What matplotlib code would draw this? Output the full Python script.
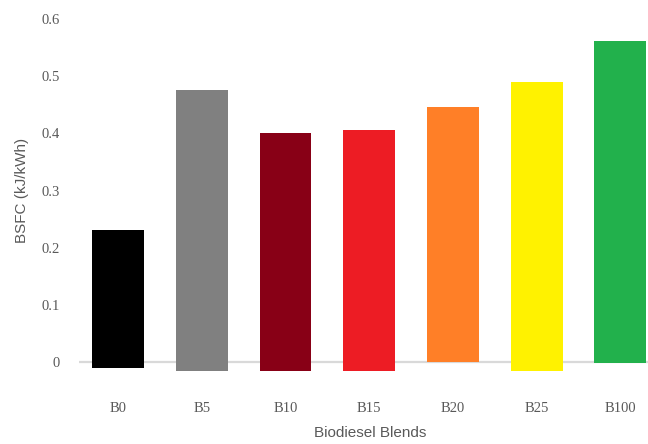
import matplotlib.pyplot as plt

blends = ['B0', 'B5', 'B10', 'B15', 'B20', 'B25', 'B100']
bsfc = [0.231, 0.475, 0.401, 0.406, 0.446, 0.489, 0.562]
bar_bottom = [-0.010, -0.016, -0.016, -0.016, 0.0, -0.016, -0.002]
colors = ['#000000', '#808080', '#880016', '#ED1C24', '#FF7F27', '#FFF200', '#22B14C']

plt.rcParams['font.family'] = ['Liberation Serif', 'DejaVu Serif']
grey = '#595959'
title_font = ['Liberation Sans Narrow', 'Liberation Sans', 'DejaVu Sans']

fig = plt.figure(figsize=(6.48, 4.44), dpi=100)
ax = fig.add_axes([0.122, 0.155, 0.878, 0.8225])

x = list(range(len(blends)))
heights = [v - b for v, b in zip(bsfc, bar_bottom)]
ax.bar(x, heights, bottom=bar_bottom, width=0.62, color=colors, zorder=2)
ax.axhline(0, color='#d9d9d9', lw=1.6, zorder=1)

ax.set_xlim(-0.466, 6.33)
ax.set_ylim(-0.0227, 0.6157)
ax.set_yticks([0, 0.1, 0.2, 0.3, 0.4, 0.5, 0.6])
ax.set_yticklabels(['0', '0.1', '0.2', '0.3', '0.4', '0.5', '0.6'])
ax.set_xticks(x)
ax.set_xticklabels(blends)
ax.tick_params(axis='y', length=0, pad=14, labelsize=10.5, labelcolor=grey)
ax.tick_params(axis='x', length=0, pad=19, labelsize=10.5, labelcolor=grey)
for s in ax.spines.values():
    s.set_visible(False)

fig.text(0.034, 0.572, 'BSFC (kJ/kWh)', rotation=90, ha='center', va='center',
         fontsize=11, color=grey, family=title_font)
fig.text(0.571, 0.025, 'Biodiesel Blends', ha='center', va='center',
         fontsize=11, color=grey, family=title_font)

fig.savefig('out.png', dpi=100)
